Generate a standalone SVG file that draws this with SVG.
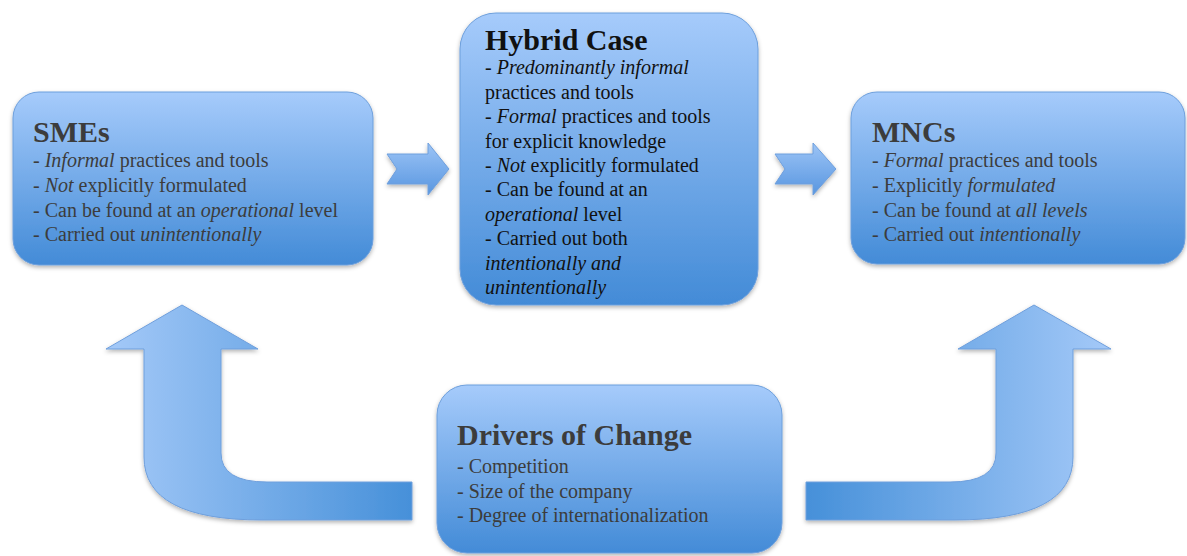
<svg xmlns="http://www.w3.org/2000/svg" width="1187" height="556" viewBox="0 0 1187 556">
<style>
.box{fill:url(#boxGrad);stroke:#6d9fdc;stroke-width:1;filter:url(#shadow)}
.title{font-family:"Liberation Serif","Times New Roman",serif;font-size:30px;font-weight:bold;fill:#3c3c3c}
.body{font-family:"Liberation Serif","Times New Roman",serif;font-size:20px;fill:#3c3c3c}
.dark{fill:#111111}
.it{font-style:italic}
.arrow{stroke:#6f9fdc;stroke-width:1;filter:url(#shadow)}
</style>
<defs>
<linearGradient id="boxGrad" x1="0" y1="0" x2="0" y2="1">
<stop offset="0" stop-color="#a6cbfb"/>
<stop offset="1" stop-color="#438bd7"/>
</linearGradient>
<linearGradient id="smallGrad" x1="0" y1="0" x2="0" y2="1">
<stop offset="0" stop-color="#9cc4f6"/>
<stop offset="1" stop-color="#5896e0"/>
</linearGradient>
<linearGradient id="leftBent" gradientUnits="userSpaceOnUse" x1="106" y1="0" x2="412" y2="0">
<stop offset="0" stop-color="#a4c9f8"/>
<stop offset="1" stop-color="#4690d9"/>
</linearGradient>
<linearGradient id="rightBent" gradientUnits="userSpaceOnUse" x1="806" y1="0" x2="1111" y2="0">
<stop offset="0" stop-color="#4690d9"/>
<stop offset="1" stop-color="#a4c9f8"/>
</linearGradient>
<filter id="shadow" x="-10%" y="-10%" width="120%" height="125%">
<feDropShadow dx="0" dy="2" stdDeviation="2" flood-color="#000" flood-opacity="0.3"/>
</filter>
</defs>

<g id="connectors">
<path class="arrow" fill="url(#smallGrad)" d="M387,154 L428,154 L428,143 L449,169 L428,195 L428,184 L387,184 L397,169 Z"/>
<path class="arrow" fill="url(#smallGrad)" d="M775,154 L813,154 L813,143 L836,169 L813,195 L813,184 L775,184 L785,169 Z"/>
<path class="arrow" fill="url(#leftBent)" d="M182,305 L258,349 L221,349 L221,453 Q221,482 267,482 L412,482 L412,520 L262,520 Q144,520 144,457 L144,349 L106,349 Z"/>
<path class="arrow" fill="url(#rightBent)" d="M1034,305 L1111,349 L1073,349 L1073,457 Q1073,520 955,520 L806,520 L806,482 L950,482 Q996,482 996,453 L996,349 L958,349 Z"/>
</g>

<g id="smes">
<rect class="box" x="13" y="92" width="360" height="173" rx="26" ry="26"/>
<text class="title" x="33" y="142">SMEs</text>
<text class="body" x="33" y="167">- <tspan class="it">Informal</tspan> practices and tools</text>
<text class="body" x="33" y="192">- <tspan class="it">Not</tspan> explicitly formulated</text>
<text class="body" x="33" y="217">- Can be found at an <tspan class="it">operational</tspan> level</text>
<text class="body" x="33" y="241">- Carried out <tspan class="it">unintentionally</tspan></text>
</g>

<g id="hybrid">
<rect class="box" x="460" y="13" width="298" height="292" rx="36" ry="36"/>
<text class="title dark" x="485" y="50">Hybrid Case</text>
<text class="body dark" x="485" y="74">- <tspan class="it">Predominantly informal</tspan></text>
<text class="body dark" x="485" y="99">practices and tools</text>
<text class="body dark" x="485" y="123">- <tspan class="it">Formal</tspan> practices and tools</text>
<text class="body dark" x="485" y="148">for explicit knowledge</text>
<text class="body dark" x="485" y="172">- <tspan class="it">Not</tspan> explicitly formulated</text>
<text class="body dark" x="485" y="196">- Can be found at an</text>
<text class="body dark" x="485" y="221"><tspan class="it">operational</tspan> level</text>
<text class="body dark" x="485" y="245">- Carried out both</text>
<text class="body dark" x="485" y="270"><tspan class="it">intentionally and</tspan></text>
<text class="body dark" x="485" y="294"><tspan class="it">unintentionally</tspan></text>
</g>

<g id="mncs">
<rect class="box" x="851" y="92" width="334" height="172" rx="26" ry="26"/>
<text class="title" x="872" y="142">MNCs</text>
<text class="body" x="872" y="167">- <tspan class="it">Formal</tspan> practices and tools</text>
<text class="body" x="872" y="192">- Explicitly <tspan class="it">formulated</tspan></text>
<text class="body" x="872" y="217">- Can be found at <tspan class="it">all levels</tspan></text>
<text class="body" x="872" y="241">- Carried out <tspan class="it">intentionally</tspan></text>
</g>

<g id="drivers">
<rect class="box" x="437" y="385" width="345" height="168" rx="30" ry="30"/>
<text class="title" x="457" y="445">Drivers of Change</text>
<text class="body" x="457" y="473">- Competition</text>
<text class="body" x="457" y="498">- Size of the company</text>
<text class="body" x="457" y="522">- Degree of internationalization</text>
</g>
</svg>
